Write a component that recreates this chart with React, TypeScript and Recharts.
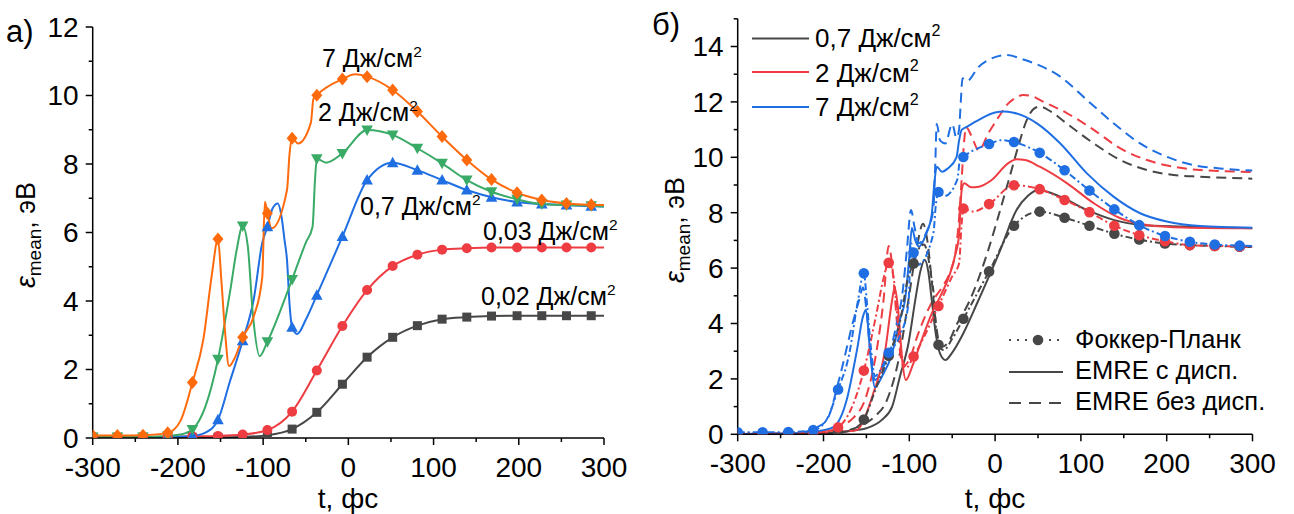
import React from 'react';
import { ComposedChart, Line, XAxis, YAxis } from 'recharts';

const FONT = '"Liberation Sans", Arial, Helvetica, sans-serif';
const C_GRAY = '#474747';
const C_RED = '#EE3D42';
const C_BLUE = '#1F6FE3';
const C_GREEN = '#3AAA67';
const C_ORANGE = '#FF6A0D';

// ---------- data ----------
const markerT = [-300, -271, -241, -212, -183, -153, -124, -95, -66, -37, -7, 22, 52, 81, 110, 139, 168, 198, 227, 256, 285];

// Fokker-Planck (panel a markers)
const fp002 = [0.02, 0.02, 0.02, 0.02, 0.02, 0.02, 0.03, 0.08, 0.26, 0.75, 1.57, 2.36, 2.94, 3.28, 3.47, 3.53, 3.56, 3.57, 3.57, 3.57, 3.57];
const fp003 = [0.04, 0.04, 0.04, 0.04, 0.05, 0.06, 0.1, 0.23, 0.77, 1.97, 3.27, 4.32, 5.02, 5.35, 5.5, 5.54, 5.56, 5.56, 5.56, 5.56, 5.56];
const fp07 = [0.03, 0.03, 0.03, 0.03, 0.06, 0.53, 2.84, 6.17, 3.23, 4.17, 5.88, 7.53, 8.04, 7.82, 7.53, 7.24, 7.03, 6.89, 6.83, 6.8, 6.77];
const fp2 = [0.03, 0.03, 0.03, 0.06, 0.25, 2.3, 6.19, 2.81, 4.63, 8.15, 8.31, 8.99, 8.85, 8.46, 8.02, 7.53, 7.19, 6.97, 6.83, 6.8, 6.78];
const fp7 = [0.07, 0.07, 0.08, 0.15, 1.62, 5.81, 2.94, 6.56, 8.75, 10.01, 10.48, 10.55, 10.16, 9.53, 8.8, 8.12, 7.55, 7.16, 6.95, 6.85, 6.81];

// curve points between markers [t, value]
const fp002Extra = [[300, 3.57]];
const fp003Extra = [[300, 5.56]];
const fp07Extra = [[-166, 0.18], [-139, 1.65], [-111, 4.05], [-101, 5.7], [-89, 6.7], [-83, 6.85], [-78, 6.4], [-75, 5.8], [-72, 5.2], [-69, 3.9], [-60, 3.04], [-50, 3.45], [300, 6.76]];
const fp2Extra = [[-197, 0.1], [-168, 0.9], [-138, 4.4], [-131, 5.5], [-118, 5.6], [-112, 3.6], [-104, 2.39], [-50, 5.7], [-42, 6.17], [-39, 7.6], [-26, 8.04], [300, 6.76]];
const fp7Extra = [[-197, 0.5], [-170, 2.9], [-160, 4.8], [-149, 4.6], [-145, 3.2], [-140, 2.1], [-134, 2.3], [-111, 3.55], [-101, 4.7], [-98, 6.9], [-90, 6.12], [-72, 7.24], [-69, 8.3], [-59, 8.6], [-44, 9.2], [-41, 9.9], [8, 10.62], [300, 6.8]];

// EMRE with dispersion (solid)
const emre07Solid = [[-300, 0.01], [-220, 0.02], [-190, 0.06], [-165, 0.14], [-150, 0.22], [-132, 0.52], [-120, 1.0], [-111, 2.08], [-101, 3.28], [-93, 4.85], [-87, 5.9], [-82, 6.3], [-78, 5.9], [-74, 4.9], [-69, 3.6], [-64, 2.9], [-58, 2.68], [-50, 2.95], [-37, 3.65], [-21, 4.73], [6, 6.65], [25, 8.1], [38, 8.6], [50, 8.82], [76, 8.58], [107, 8.1], [138, 7.74], [169, 7.56], [220, 7.5], [300, 7.44]];
const emre2Solid = [[-300, 0.01], [-220, 0.03], [-190, 0.07], [-175, 0.1], [-161, 0.15], [-152, 0.6], [-142, 1.48], [-128, 3.04], [-120, 4.85], [-117, 5.3], [-113, 4.5], [-108, 2.6], [-104, 1.96], [-96, 2.5], [-87, 3.28], [-72, 4.49], [-64, 4.97], [-47, 6.41], [-42, 7.2], [-39, 8.8], [-36, 9.06], [-28, 8.92], [-19, 8.94], [-4, 9.18], [15, 9.78], [25, 9.93], [35, 9.9], [52, 9.66], [84, 9.06], [115, 8.34], [146, 7.8], [177, 7.56], [220, 7.47], [300, 7.44]];
const emre7Solid = [[-300, 0.01], [-240, 0.03], [-215, 0.08], [-200, 0.15], [-188, 0.27], [-173, 1.24], [-161, 3.04], [-154, 4.25], [-150.5, 4.5], [-146, 3.1], [-140, 1.7], [-132, 2.08], [-120, 2.92], [-111, 4.13], [-105, 4.85], [-100, 6.4], [-97, 7.45], [-93, 7.0], [-89, 6.77], [-80, 7.26], [-74, 7.9], [-71, 9.0], [-68, 9.66], [-62, 9.48], [-55, 9.6], [-45, 10.0], [-42, 10.6], [-39, 10.99], [-33, 11.1], [-19, 11.35], [0, 11.62], [10, 11.65], [20, 11.62], [35, 11.47], [50, 11.2], [76, 10.5], [107, 9.42], [138, 8.58], [169, 7.98], [200, 7.68], [239, 7.52], [300, 7.46]];

// EMRE without dispersion (dashed)
const emre07Dash = [[-300, 0.01], [-220, 0.03], [-200, 0.05], [-175, 0.12], [-157, 0.3], [-140, 0.65], [-126, 1.24], [-111, 2.92], [-101, 4.85], [-92, 6.6], [-84, 7.6], [-79, 7.0], [-74, 5.6], [-69, 4.0], [-63, 3.15], [-55, 3.3], [-45, 3.95], [-30, 4.8], [-8, 6.65], [5, 8.0], [17, 9.3], [27, 10.4], [37, 11.35], [45, 11.75], [52, 11.83], [65, 11.65], [83, 11.23], [115, 10.5], [146, 9.9], [177, 9.54], [208, 9.36], [239, 9.3], [300, 9.23]];
const emre2Dash = [[-300, 0.01], [-220, 0.05], [-195, 0.15], [-180, 0.3], [-165, 0.6], [-151, 1.3], [-138, 3.04], [-130, 4.85], [-124, 6.8], [-119, 5.8], [-114, 3.9], [-107, 2.45], [-100, 2.7], [-90, 3.6], [-80, 4.37], [-72, 4.85], [-62, 5.3], [-52, 5.9], [-46, 6.6], [-42, 7.8], [-39, 9.2], [-36, 10.6], [-34, 11.1], [-28, 10.8], [-19, 10.25], [-8, 10.86], [5, 11.5], [12, 11.83], [23, 12.13], [33, 12.25], [44, 12.2], [52, 12.07], [84, 11.59], [115, 10.99], [146, 10.32], [177, 9.9], [208, 9.66], [239, 9.54], [300, 9.47]];
const emre7Dash = [[-300, 0.01], [-240, 0.03], [-220, 0.1], [-208, 0.25], [-196, 0.52], [-181, 2.08], [-165, 4.13], [-158, 4.9], [-154, 5.3], [-150, 4.5], [-145, 2.8], [-140, 1.96], [-131, 2.4], [-122, 3.04], [-113, 4.25], [-109, 4.85], [-103, 6.6], [-98, 8.1], [-94, 7.5], [-89, 6.9], [-80, 7.3], [-72, 8.1], [-70, 9.5], [-68, 11.2], [-64, 10.6], [-58, 10.5], [-50, 11.2], [-45, 10.7], [-42, 11.0], [-40, 12.0], [-38, 12.85], [-33, 12.75], [-19, 13.27], [-4, 13.57], [13, 13.69], [35, 13.51], [45, 13.4], [76, 12.91], [107, 12.07], [138, 11.23], [169, 10.5], [200, 10.02], [231, 9.72], [262, 9.6], [300, 9.52]];

// axis ticks
const xMajor = [-300, -200, -100, 0, 100, 200, 300];
const xAll = [-300, -250, -200, -150, -100, -50, 0, 50, 100, 150, 200, 250, 300];
const yMajorA = [0, 2, 4, 6, 8, 10, 12];
const yAllA = [0, 1, 2, 3, 4, 5, 6, 7, 8, 9, 10, 11, 12];
const yMajorB = [0, 2, 4, 6, 8, 10, 12, 14];
const yAllB = [0, 1, 2, 3, 4, 5, 6, 7, 8, 9, 10, 11, 12, 13, 14, 15];

// ---------- helpers ----------
type Pt = { t: number; v: number; m?: boolean };

function withMarkers(vals: number[], extra: number[][]): Pt[] {
  const pts: Pt[] = markerT.map((t, i) => ({ t, v: vals[i], m: true }));
  extra.forEach(([t, v]) => pts.push({ t, v, m: false }));
  pts.sort((a, b) => a.t - b.t);
  return pts;
}
function plain(arr: number[][]): Pt[] {
  return arr.map(([t, v]) => ({ t, v }));
}

type Shape = 'square' | 'circle' | 'up' | 'down' | 'diamond';
function makeDot(shape: Shape, color: string, r = 5) {
  return (props: any) => {
    const { cx, cy, payload, index } = props;
    const key = `d-${shape}-${color}-${index}`;
    if (!payload || !payload.m || cx == null || cy == null || isNaN(cx) || isNaN(cy)) return <g key={key} />;
    if (shape === 'square') return <rect key={key} x={cx - 4.5} y={cy - 4.5} width={9} height={9} fill={color} />;
    if (shape === 'circle') return <circle key={key} cx={cx} cy={cy} r={r} fill={color} />;
    if (shape === 'up') return <path key={key} d={`M${cx},${cy - 6}L${cx + 5.8},${cy + 4.5}L${cx - 5.8},${cy + 4.5}Z`} fill={color} />;
    if (shape === 'down') return <path key={key} d={`M${cx},${cy + 6}L${cx + 5.8},${cy - 4.5}L${cx - 5.8},${cy - 4.5}Z`} fill={color} />;
    return <path key={key} d={`M${cx},${cy - 6.5}L${cx + 5.5},${cy}L${cx},${cy + 6.5}L${cx - 5.5},${cy}Z`} fill={color} />;
  };
}

const TICK_FS = 28;
function makeXTick(majors: number[]) {
  return (props: any) => {
    const { x, y, payload } = props;
    const major = majors.includes(payload.value);
    return (
      <g>
        <line x1={x} y1={y} x2={x} y2={y + (major ? 7 : 4)} stroke="#000" strokeWidth={1.5} />
        {major && (
          <text x={x} y={y + 19} dy="0.71em" textAnchor="middle" fontSize={TICK_FS} fontFamily={FONT} fill="#000">
            {payload.value}
          </text>
        )}
      </g>
    );
  };
}
function makeYTick(majors: number[]) {
  return (props: any) => {
    const { x, y, payload } = props;
    const major = majors.includes(payload.value);
    return (
      <g>
        <line x1={x} y1={y} x2={x - (major ? 7 : 4)} y2={y} stroke="#000" strokeWidth={1.5} />
        {major && (
          <text x={x - 14} y={y} dy="0.355em" textAnchor="end" fontSize={TICK_FS} fontFamily={FONT} fill="#000">
            {payload.value}
          </text>
        )}
      </g>
    );
  };
}

const axisLine = { stroke: '#000', strokeWidth: 1.5 };

const FP_DASH = '7 3 2 3';
const EMRE_DASH = '10 6';

// ---------- text overlay ----------
function Dj({ x, y, prefix, size = 25 }: { x: number; y: number; prefix: string; size?: number }) {
  return (
    <text x={x} y={y} fontSize={size} fontFamily={FONT} fill="#000">
      {prefix} Дж/см
      <tspan fontSize={size * 0.62} dy={-size * 0.42}>2</tspan>
    </text>
  );
}

function YTitle({ x, y }: { x: number; y: number }) {
  return (
    <text x={x} y={y} transform={`rotate(-90 ${x} ${y})`} textAnchor="middle" fontSize={27} fontFamily={FONT} fill="#000">
      <tspan fontStyle="italic">ε</tspan>
      <tspan fontSize={19} dy={6}>mean</tspan>
      <tspan dy={-6}>, эВ</tspan>
    </text>
  );
}

export default function App() {
  const dA002 = withMarkers(fp002, fp002Extra);
  const dA003 = withMarkers(fp003, fp003Extra);
  const dA07 = withMarkers(fp07, fp07Extra);
  const dA2 = withMarkers(fp2, fp2Extra);
  const dA7 = withMarkers(fp7, fp7Extra);

  const commonX = {
    type: 'number' as const,
    dataKey: 't',
    domain: [-300, 300] as [number, number],
    ticks: xAll,
    interval: 0 as const,
    tickLine: false,
    tickSize: 0,
    tickMargin: 0,
    axisLine,
    height: 30,
    allowDataOverflow: true,
    tick: makeXTick(xMajor),
  };

  return (
    <div style={{ position: 'absolute', left: 0, top: 0, width: 1294, height: 514, background: '#fff', fontFamily: FONT }}>
      {/* Panel a */}
      <div style={{ position: 'absolute', left: 0, top: 0 }}>
        <ComposedChart width={640} height={514} margin={{ top: 27, right: 36, bottom: 46, left: 32.7 }}>
          <XAxis {...commonX} />
          <YAxis
            type="number"
            domain={[0, 12]}
            ticks={yAllA}
            interval={0}
            tickLine={false}
            tickSize={0}
            tickMargin={0}
            axisLine={axisLine}
            width={60}
            allowDataOverflow
            tick={makeYTick(yMajorA)}
          />
          <Line data={dA002} dataKey="v" type="monotone" stroke={C_GRAY} strokeWidth={2} dot={makeDot('square', C_GRAY)} activeDot={false} isAnimationActive={false} />
          <Line data={dA003} dataKey="v" type="monotone" stroke={C_RED} strokeWidth={2} dot={makeDot('circle', C_RED)} activeDot={false} isAnimationActive={false} />
          <Line data={dA07} dataKey="v" type="monotone" stroke={C_BLUE} strokeWidth={2} dot={makeDot('up', C_BLUE)} activeDot={false} isAnimationActive={false} />
          <Line data={dA2} dataKey="v" type="monotone" stroke={C_GREEN} strokeWidth={2} dot={makeDot('down', C_GREEN)} activeDot={false} isAnimationActive={false} />
          <Line data={dA7} dataKey="v" type="monotone" stroke={C_ORANGE} strokeWidth={2} dot={makeDot('diamond', C_ORANGE)} activeDot={false} isAnimationActive={false} />
        </ComposedChart>
      </div>

      {/* Panel b */}
      <div style={{ position: 'absolute', left: 645, top: 0 }}>
        <ComposedChart width={649} height={514} margin={{ top: 18.8, right: 41.5, bottom: 49.7, left: 32.7 }}>
          <XAxis {...commonX} />
          <YAxis
            type="number"
            domain={[0, 15]}
            ticks={yAllB}
            interval={0}
            tickLine={false}
            tickSize={0}
            tickMargin={0}
            axisLine={axisLine}
            width={60}
            allowDataOverflow
            tick={makeYTick(yMajorB)}
          />
          <Line data={plain(emre07Dash)} dataKey="v" type="monotone" stroke={C_GRAY} strokeWidth={2} strokeDasharray={EMRE_DASH} dot={false} activeDot={false} isAnimationActive={false} />
          <Line data={plain(emre2Dash)} dataKey="v" type="monotone" stroke={C_RED} strokeWidth={2} strokeDasharray={EMRE_DASH} dot={false} activeDot={false} isAnimationActive={false} />
          <Line data={plain(emre7Dash)} dataKey="v" type="monotone" stroke={C_BLUE} strokeWidth={2} strokeDasharray={EMRE_DASH} dot={false} activeDot={false} isAnimationActive={false} />
          <Line data={plain(emre07Solid)} dataKey="v" type="monotone" stroke={C_GRAY} strokeWidth={2} dot={false} activeDot={false} isAnimationActive={false} />
          <Line data={plain(emre2Solid)} dataKey="v" type="monotone" stroke={C_RED} strokeWidth={2} dot={false} activeDot={false} isAnimationActive={false} />
          <Line data={plain(emre7Solid)} dataKey="v" type="monotone" stroke={C_BLUE} strokeWidth={2} dot={false} activeDot={false} isAnimationActive={false} />
          <Line data={dA07} dataKey="v" type="monotone" stroke={C_GRAY} strokeWidth={2} strokeDasharray={FP_DASH} dot={makeDot('circle', C_GRAY, 5.3)} activeDot={false} isAnimationActive={false} />
          <Line data={dA2} dataKey="v" type="monotone" stroke={C_RED} strokeWidth={2} strokeDasharray={FP_DASH} dot={makeDot('circle', C_RED, 5.3)} activeDot={false} isAnimationActive={false} />
          <Line data={dA7} dataKey="v" type="monotone" stroke={C_BLUE} strokeWidth={2} strokeDasharray={FP_DASH} dot={makeDot('circle', C_BLUE, 5.3)} activeDot={false} isAnimationActive={false} />
        </ComposedChart>
      </div>

      {/* Text and legend overlay */}
      <svg width={1294} height={514} style={{ position: 'absolute', left: 0, top: 0, pointerEvents: 'none' }}>
        <text x={6} y={42} fontSize={31} fontFamily={FONT} fill="#000">а)</text>
        <text x={652} y={35} fontSize={31} fontFamily={FONT} fill="#000">б)</text>

        <YTitle x={35} y={235} />
        <YTitle x={684} y={230} />

        <text x={348} y={508} textAnchor="middle" fontSize={28} fontFamily={FONT} fill="#000">t, фс</text>
        <text x={995} y={508} textAnchor="middle" fontSize={28} fontFamily={FONT} fill="#000">t, фс</text>

        <Dj x={322} y={67} prefix="7" />
        <Dj x={318} y={121} prefix="2" />
        <Dj x={360} y={215} prefix="0,7" />
        <Dj x={483} y={240} prefix="0,03" />
        <Dj x={481} y={305} prefix="0,02" />

        {/* legend: fluence */}
        <line x1={752} y1={38.5} x2={809} y2={38.5} stroke={C_GRAY} strokeWidth={2} />
        <line x1={752} y1={72} x2={809} y2={72} stroke={C_RED} strokeWidth={2} />
        <line x1={752} y1={107} x2={809} y2={107} stroke={C_BLUE} strokeWidth={2} />
        <Dj x={815} y={47} prefix="0,7" size={26} />
        <Dj x={815} y={82} prefix="2" size={26} />
        <Dj x={815} y={116} prefix="7" size={26} />

        {/* legend: method */}
        <line x1={1009} y1={340} x2={1063} y2={340} stroke={C_GRAY} strokeWidth={2} strokeDasharray="2 6" />
        <circle cx={1038} cy={340} r={5.3} fill={C_GRAY} />
        <line x1={1009} y1={372} x2={1063} y2={372} stroke={C_GRAY} strokeWidth={2} />
        <line x1={1009} y1={403} x2={1063} y2={403} stroke={C_GRAY} strokeWidth={2} strokeDasharray="12 8" />
        <text x={1075} y={348} fontSize={25.5} fontFamily={FONT} fill="#000">Фоккер-Планк</text>
        <text x={1075} y={379} fontSize={25.5} fontFamily={FONT} fill="#000">EMRE с дисп.</text>
        <text x={1075} y={410} fontSize={25.5} fontFamily={FONT} fill="#000">EMRE без дисп.</text>
      </svg>
    </div>
  );
}
